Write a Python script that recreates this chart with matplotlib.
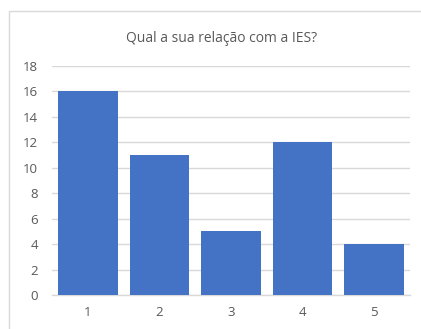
import matplotlib
matplotlib.use('Agg')
import matplotlib.pyplot as plt
from matplotlib.patches import Rectangle

# respostas por categoria
categorias = ['1', '2', '3', '4', '5']
respostas = [16, 11, 5, 12, 4]
yticks = [0, 2, 4, 6, 8, 10, 12, 14, 16, 18]

W, H = 421, 329
fig = plt.figure(figsize=(W / 100, H / 100), dpi=100)
plt.rcParams['font.family'] = ['Open Sans', 'DejaVu Sans']

# moldura do gráfico
fig.patches.append(Rectangle((9 / W, -0.05), 1.0, 1.05 - 11 / H, transform=fig.transFigure,
                             fill=False, edgecolor='#d9d9d9', linewidth=1.0))

ax = fig.add_axes([52 / W, 1 - 295 / H, 358 / W, (295 - 66) / H])
x = range(len(categorias))
ax.bar(x, respostas, width=0.83, color='#4472c4', zorder=3)

ax.set_xlim(-0.5, len(categorias) - 0.5)
ax.set_ylim(0, 18)
ax.set_yticks(yticks)
ax.set_xticks(list(x))
ax.set_xticklabels(categorias)
ax.grid(axis='y', color='#d9d9d9', linewidth=1.0, zorder=0)
for s in ['top', 'right', 'left']:
    ax.spines[s].set_visible(False)
ax.spines['bottom'].set_color('#d9d9d9')
ax.spines['bottom'].set_linewidth(1.0)
ax.tick_params(axis='both', length=0, labelsize=9.5, colors='#595959')
ax.tick_params(axis='x', pad=8)
ax.tick_params(axis='y', pad=10)

fig.text(222 / W, 1 - 38 / H, 'Qual a sua relação com a IES?', ha='center', va='center',
         fontsize=10, color='#595959')

fig.savefig('out.png', dpi=100)
